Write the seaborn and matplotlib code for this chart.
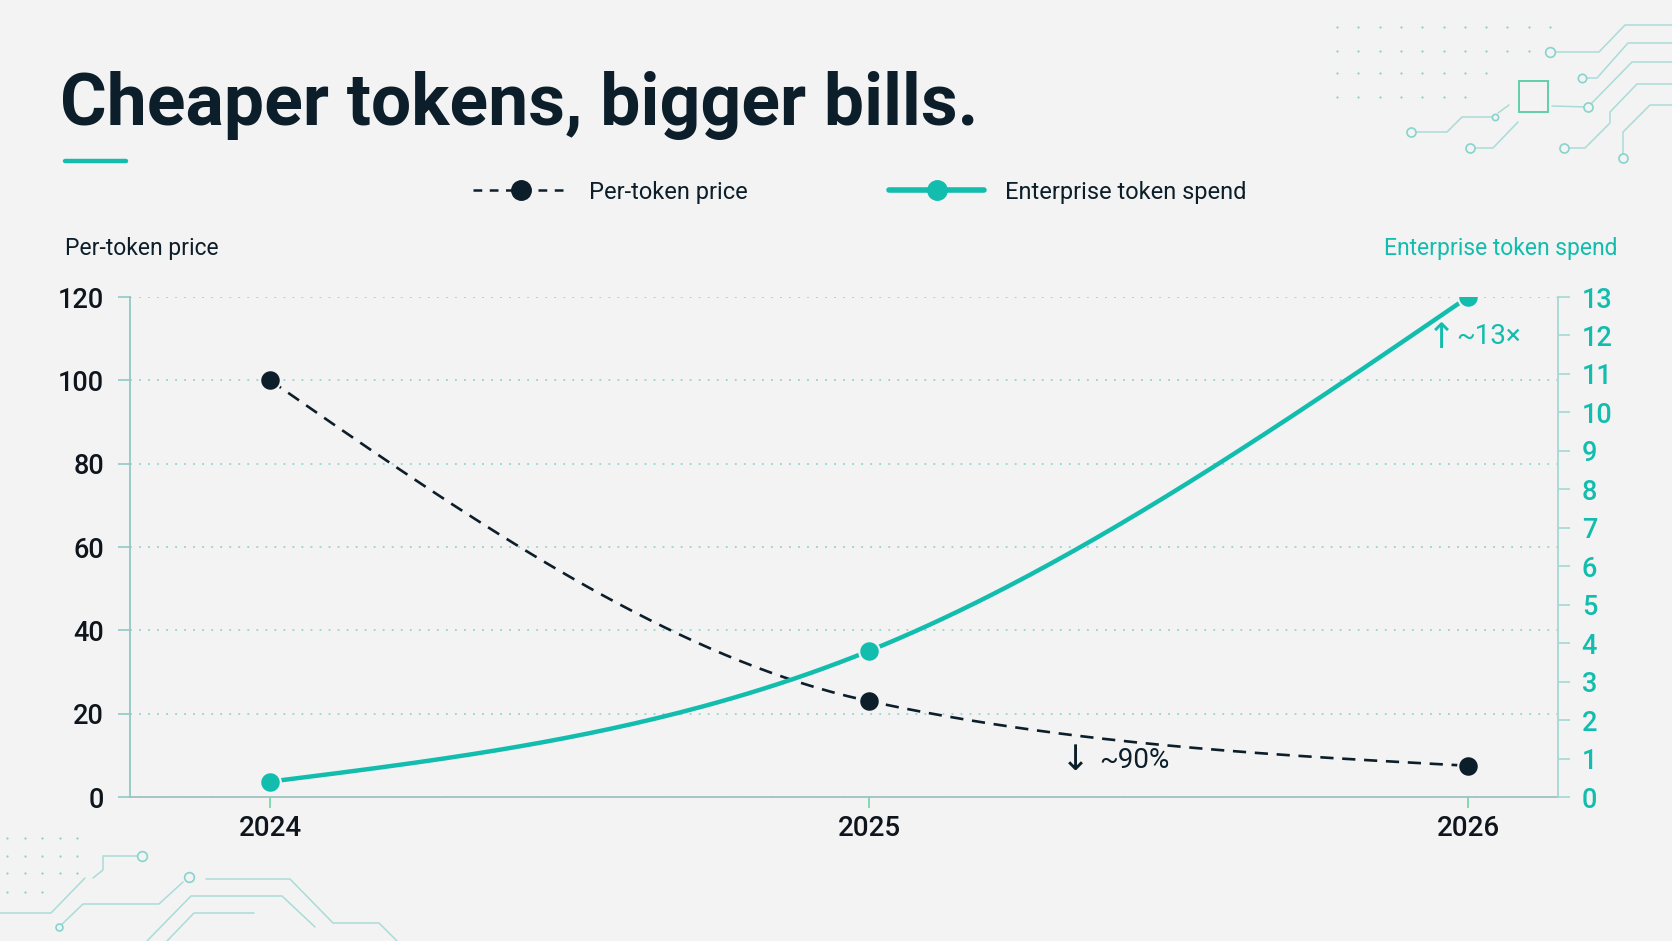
import numpy as np
import pandas as pd
import matplotlib
matplotlib.use("Agg")
import matplotlib.pyplot as plt
from matplotlib.lines import Line2D
from matplotlib.patches import Rectangle
import seaborn as sns

# data
years = [2024, 2025, 2026]
year_labels = ["2024", "2025", "2026"]
price = [100, 23, 7.5]          # per-token price (left axis)
spend = [0.4, 3.8, 13]          # enterprise token spend (right axis)
price_ticks = [0, 20, 40, 60, 80, 100, 120]
spend_ticks = list(range(0, 14))

TEAL = "#13bdae"
NAVY = "#0c1e29"
BG = "#f3f3f3"
SPINE = "#8fc9c4"
GRID = "#93d3d2"
DECO = "#a9dcd8"

sns.set_theme(style="white")
plt.rcParams['font.family'] = ['Roboto', 'DejaVu Sans']

W, H = 1672, 941


def monotone_curve(x, y, n=80):
    # monotone cubic (d3 monotoneX style), only for drawing the line
    x = np.asarray(x, float)
    y = np.asarray(y, float)
    h = np.diff(x)
    s = np.diff(y) / h
    m = np.zeros_like(y)
    for i in range(1, len(y) - 1):
        p = (s[i - 1] * h[i] + s[i] * h[i - 1]) / (h[i - 1] + h[i])
        m[i] = (np.sign(s[i - 1]) + np.sign(s[i])) * min(abs(s[i - 1]), abs(s[i]), 0.5 * abs(p))
    m[0] = (3 * s[0] - m[1]) / 2
    m[-1] = (3 * s[-1] - m[-2]) / 2
    xs, ys = [], []
    for i in range(len(h)):
        t = np.linspace(0, 1, n)
        h00 = 2 * t**3 - 3 * t**2 + 1
        h10 = t**3 - 2 * t**2 + t
        h01 = -2 * t**3 + 3 * t**2
        h11 = t**3 - t**2
        xs.append(x[i] + t * h[i])
        ys.append(h00 * y[i] + h10 * h[i] * m[i] + h01 * y[i + 1] + h11 * h[i] * m[i + 1])
    return np.concatenate(xs), np.concatenate(ys)


def fx(px):
    return px / W


def fy(py):
    return 1 - py / H


fig = plt.figure(figsize=(W / 100, H / 100), dpi=100, facecolor=BG)
ax = fig.add_axes([fx(130), fy(797), fx(1558) - fx(130), fy(297) - fy(797)])
ax.set_facecolor(BG)
ax2 = ax.twinx()

df = pd.DataFrame({"year": years, "price": price, "spend": spend})

# price line (dashed) + markers
cx, cy = monotone_curve(years, price)
ax.plot(cx, cy, color=NAVY, lw=1.9, dashes=(5, 3.3), zorder=3)
sns.scatterplot(data=df, x="year", y="price", ax=ax, color=NAVY, s=220,
                edgecolor=BG, linewidth=1.5, zorder=4, legend=False)

# spend line (solid teal) + markers
sx, sy = monotone_curve(years, spend)
ax2.plot(sx, sy, color=TEAL, lw=3.2, solid_capstyle="round", zorder=3)
sns.scatterplot(data=df, x="year", y="spend", ax=ax2, color=TEAL, s=220,
                edgecolor=BG, linewidth=1.5, zorder=4, legend=False)

ax.set_xlim(2023.766, 2026.15)
ax.set_ylim(0, 120)
ax2.set_ylim(0, 13)
ax.set_xticks(years)
ax.set_xticklabels(year_labels)
ax.set_yticks(price_ticks)
ax2.set_yticks(spend_ticks)
ax.set_xlabel("")
ax.set_ylabel("")
ax2.set_ylabel("")

ax.yaxis.grid(True, color=GRID, lw=1.3, linestyle=(0, (1, 4)))
ax.xaxis.grid(False)
ax2.grid(False)

for a in (ax, ax2):
    a.spines["top"].set_visible(False)
ax.spines["right"].set_visible(False)
ax.spines["left"].set_color(SPINE)
ax.spines["left"].set_linewidth(1.3)
ax.spines["bottom"].set_color("#9ec3c0")
ax.spines["bottom"].set_linewidth(1.3)
ax2.spines["left"].set_visible(False)
ax2.spines["bottom"].set_visible(False)
ax2.spines["right"].set_color("#a6d8d4")
ax2.spines["right"].set_linewidth(1.3)

ax.tick_params(axis="y", length=8.6, width=1.2, color=SPINE, pad=10,
               labelsize=19.5, labelcolor="#0e151c", left=True)
ax.tick_params(axis="x", length=8, width=1.2, color="#6fd6a6", pad=5,
               labelsize=20, labelcolor="#0e151c", bottom=True)
ax2.tick_params(axis="y", length=8.6, width=1.2, color="#a6d8d4", pad=8.5,
                labelsize=19.5, labelcolor=TEAL, right=True)
for lab in ax.get_xticklabels() + ax.get_yticklabels() + ax2.get_yticklabels():
    lab.set_fontweight("medium")

# annotations (arrow glyph in DejaVu, the rest in Roboto)
ax2.annotate("\u2191", xy=(years[2], spend[2]), xytext=(-19.5, -29.5),
             textcoords="offset points", ha="center", va="center",
             color=TEAL, fontsize=25, family=["DejaVu Sans"])
ax2.annotate("~13\u00d7", xy=(years[2], spend[2]), xytext=(15, -28.5),
             textcoords="offset points", ha="center", va="center",
             color=TEAL, fontsize=20)
ax.annotate("\u2193", xy=(years[2], price[2]), xytext=(-283, 4),
            textcoords="offset points", ha="center", va="center",
            color=NAVY, fontsize=25, family=["DejaVu Sans"])
ax.annotate("~90%", xy=(years[2], price[2]), xytext=(-240, 4),
            textcoords="offset points", ha="center", va="center",
            color=NAVY, fontsize=20)

# title + accent bar
fig.text(fx(60), fy(125), "Cheaper tokens, bigger bills.", fontsize=51.5,
         fontweight="bold", color=NAVY, ha="left", va="baseline")
fig.add_artist(Line2D([fx(65), fx(126)], [fy(161), fy(161)], color=TEAL,
                      lw=3.2, solid_capstyle="round"))

# axis titles
fig.text(fx(65), fy(248), "Per-token price", fontsize=16.5, color=NAVY,
         ha="left", va="center")
fig.text(fx(1617), fy(248), "Enterprise token spend", fontsize=16.5,
         color=TEAL, ha="right", va="center")

# legend
handles = [
    Line2D([0], [0], color=NAVY, lw=1.8, dashes=(3.5, 3), marker="o",
           markersize=14, markerfacecolor=NAVY, markeredgecolor=NAVY),
    Line2D([0], [0], color=TEAL, lw=4, marker="o", markersize=14,
           markerfacecolor=TEAL, markeredgecolor=TEAL, solid_capstyle="round"),
]
fig.legend(handles, ["Per-token price", "Enterprise token spend"],
           loc="center", bbox_to_anchor=(fx(860), fy(192)), ncol=2,
           frameon=False, fontsize=17, handlelength=4.0, handletextpad=0.9,
           columnspacing=6.0, numpoints=1, labelcolor=NAVY, borderpad=0)

# decorative circuit pattern, top right
def deco_line(pts, lw=1.1, color=DECO):
    xs = [fx(p[0]) for p in pts]
    ys = [fy(p[1]) for p in pts]
    fig.add_artist(Line2D(xs, ys, color=color, lw=lw, zorder=0))


def deco_node(x, y, ms=7):
    fig.add_artist(Line2D([fx(x)], [fy(y)], marker="o", ms=ms, mfc=BG,
                          mec="#86d4cd", mew=1.2, zorder=1))


dot_rows = [(27, 11), (51, 10), (73, 8), (97, 7)]
for yy, n in dot_rows:
    for k in range(n):
        fig.add_artist(Line2D([fx(1337 + 21.3 * k)], [fy(yy)], marker="o",
                              ms=1.6, mfc="#8fcfca", mec="none"))

deco_line([(1550, 52), (1599, 52), (1625, 25), (1672, 25)])
deco_node(1550, 52)
deco_line([(1582, 78), (1597, 78), (1628, 43), (1672, 43)])
deco_node(1582, 78, 6)
deco_line([(1552, 106), (1588, 107)])
deco_line([(1588, 107), (1632, 62), (1672, 62)])
deco_node(1588, 107, 6.5)
deco_line([(1564, 148), (1585, 148), (1610, 123), (1610, 112), (1637, 84), (1672, 84)])
deco_node(1564, 148, 6.5)
deco_line([(1623, 158), (1623, 132), (1650, 105), (1672, 105)])
deco_node(1623, 158, 6.5)
deco_line([(1411, 132), (1447, 132), (1462, 117), (1492, 117)])
deco_node(1411, 132, 6.5)
deco_node(1495, 117, 4.5)
deco_line([(1498, 113), (1509, 105)])
deco_line([(1470, 148), (1493, 148), (1518, 122)])
deco_node(1470, 148, 6.5)
fig.add_artist(Rectangle((fx(1519), fy(112)), fx(29), fy(81) - fy(112),
                         transform=fig.transFigure, fill=False,
                         edgecolor="#62cfa9", lw=1.4))

# decorative circuit pattern, bottom left
for yy, n in [(838, 5), (856, 5), (873, 5), (892, 3)]:
    for k in range(n):
        fig.add_artist(Line2D([fx(7 + 17.5 * k)], [fy(yy)], marker="o",
                              ms=1.6, mfc="#8fcfca", mec="none"))

deco_line([(0, 913), (51, 913), (85, 878)])
deco_line([(93, 878), (103, 870), (103, 856), (137, 856)])
deco_node(142, 856, 7)
deco_line([(59, 927), (83, 904), (159, 904), (183, 882)])
deco_node(59, 927, 5)
deco_node(189, 877, 7)
deco_line([(147, 941), (191, 896), (282, 896), (315, 927)])
deco_line([(206, 879), (290, 879), (333, 923), (379, 923), (397, 941)])
deco_line([(167, 941), (194, 913), (254, 913)])

fig.savefig("out.png", dpi=100, facecolor=BG)
